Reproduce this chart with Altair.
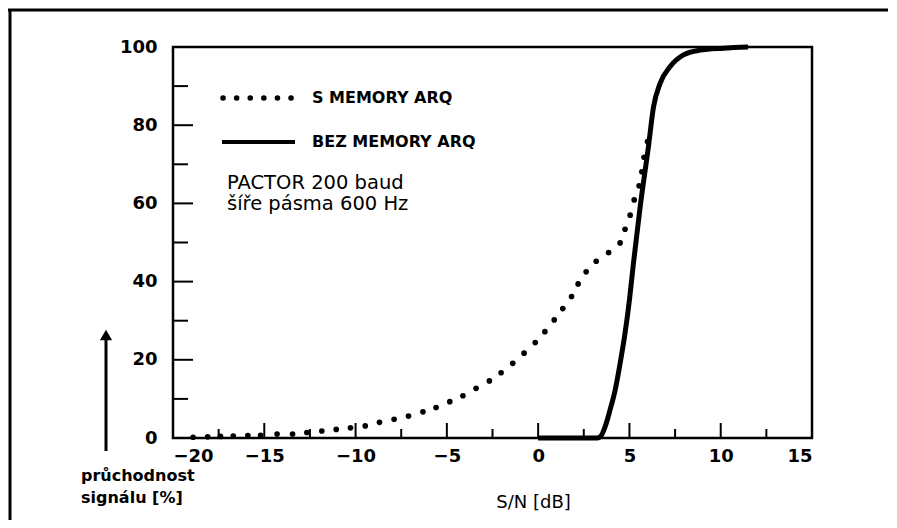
import altair as alt
import pandas as pd

# S MEMORY ARQ (dotted series)
s_mem_x = [-18.9, -18.1, -17.4, -16.7, -15.9, -15.2, -14.3, -13.45, -12.67, -11.85,
           -11.06, -10.28, -9.47, -8.69, -7.89, -7.1, -6.31, -5.59, -4.84, -4.12,
           -3.40, -2.67, -2.03, -1.39, -0.77, -0.16, 0.37, 0.88, 1.35, 1.83,
           2.19, 2.63, 3.18, 3.86, 4.49, 4.76, 5.04, 5.26, 5.53, 5.68, 5.80, 5.99]
s_mem_y = [0.2, 0.3, 0.4, 0.5, 0.6, 0.7, 1.0, 1.0, 1.4, 1.8,
           2.2, 2.6, 3.1, 4.0, 4.8, 5.6, 6.7, 7.8, 9.3, 10.8,
           12.7, 14.6, 16.7, 19.1, 21.7, 24.4, 27.2, 30.2, 33.1, 36.2,
           39.4, 42.5, 45.2, 47.4, 49.9, 53.4, 57.0, 60.9, 64.5, 68.1, 71.8, 75.8]

# BEZ MEMORY ARQ (solid series)
bez_x = [0.0, 3.2, 3.4, 3.67, 3.94, 4.22, 4.49, 4.76, 5.0, 5.22, 5.59, 6.04, 6.32,
         6.68, 7.23, 7.96, 8.87, 10.15, 11.5]
bez_y = [0.0, 0.0, 0.3, 2.9, 7.2, 12.3, 19.1, 26.8, 35.3, 44.7, 59.2, 74.5, 84.7,
         90.7, 95.0, 98.0, 99.2, 99.7, 100.0]

x_major = [-20, -15, -10, -5, 0, 5, 10, 15]
x_minor = [-17.5, -12.5, -7.5, -2.5, 2.5, 7.5, 12.5]
y_major = [0, 20, 40, 60, 80, 100]
y_minor = [10, 30, 50, 70, 90]

legend_labels = ["S MEMORY ARQ", "BEZ MEMORY ARQ"]
note_lines = ["PACTOR 200 baud", "šíře pásma 600 Hz"]
y_title = ["průchodnost", "signálu [%]"]
x_title = "S/N [dB]"

W, H = 639, 391
FONT = "DejaVu Sans"

xs = alt.Scale(domain=[-20, 15], nice=False, zero=False)
ys = alt.Scale(domain=[0, 100], nice=False, zero=False)

df_s = pd.DataFrame({"x": s_mem_x, "y": s_mem_y})
df_b = pd.DataFrame({"x": bez_x, "y": bez_y})
one = pd.DataFrame({"k": [0]})

x_axis = alt.Axis(values=x_major, format="d", ticks=False, tickSize=0, domain=False, grid=False,
                  labelFont=FONT, labelFontWeight="bold", labelFontSize=18, labelPadding=9,
                  labelColor="black", title=x_title, titleFont=FONT, titleFontWeight="normal",
                  titleFontSize=18, titleColor="black", titleX=360, titleY=64,
                  titleBaseline="middle", titleAlign="center")
y_axis = alt.Axis(values=y_major, format="d", ticks=False, tickSize=0, domain=False, grid=False,
                  labelFont=FONT, labelFontWeight="bold", labelFontSize=18, labelPadding=16,
                  labelColor="black", title=None)

dots = alt.Chart(df_s).mark_point(filled=True, shape="circle", size=32, color="black", opacity=1).encode(
    x=alt.X("x:Q", scale=xs, axis=x_axis),
    y=alt.Y("y:Q", scale=ys, axis=y_axis),
)

solid = alt.Chart(df_b).mark_line(color="black", strokeWidth=5, interpolate="monotone").encode(
    x=alt.X("x:Q", scale=xs), y=alt.Y("y:Q", scale=ys), order="x:Q"
)

xt_major = alt.Chart(pd.DataFrame({"t": x_major})).mark_rule(color="black", strokeWidth=2).encode(
    x=alt.X("t:Q", scale=xs), y=alt.value(H), y2=alt.value(H - 15))
xt_minor = alt.Chart(pd.DataFrame({"t": x_minor})).mark_rule(color="black", strokeWidth=2).encode(
    x=alt.X("t:Q", scale=xs), y=alt.value(H), y2=alt.value(H - 9))
yt_major = alt.Chart(pd.DataFrame({"t": y_major})).mark_rule(color="black", strokeWidth=2).encode(
    y=alt.Y("t:Q", scale=ys), x=alt.value(0), x2=alt.value(20))
yt_minor = alt.Chart(pd.DataFrame({"t": y_minor})).mark_rule(color="black", strokeWidth=2).encode(
    y=alt.Y("t:Q", scale=ys), x=alt.value(0), x2=alt.value(15))

leg_dots = alt.Chart(one).mark_rule(color="black", strokeWidth=5.5, strokeCap="round",
                                    strokeDash=[0.1, 13.5]).encode(
    x=alt.value(50), x2=alt.value(120), y=alt.value(51))
leg_line = alt.Chart(one).mark_rule(color="black", strokeWidth=4).encode(
    x=alt.value(49), x2=alt.value(122), y=alt.value(95))
leg_t1 = alt.Chart(one).mark_text(text=legend_labels[0], font=FONT, fontWeight="bold", fontSize=16,
                                  align="left", baseline="middle", color="black").encode(
    x=alt.value(139), y=alt.value(51))
leg_t2 = alt.Chart(one).mark_text(text=legend_labels[1], font=FONT, fontWeight="bold", fontSize=16,
                                  align="left", baseline="middle", color="black").encode(
    x=alt.value(139), y=alt.value(95))
note = alt.Chart(one).mark_text(text=note_lines, font=FONT, fontSize=19.5, lineHeight=21,
                                align="left", baseline="middle", color="black").encode(
    x=alt.value(54), y=alt.value(136))
ytitle = alt.Chart(one).mark_text(text=y_title, font=FONT, fontWeight="bold", fontSize=16,
                                  lineHeight=22, align="left", baseline="middle", color="black").encode(
    x=alt.value(-92), y=alt.value(429))
arrow_shaft = alt.Chart(one).mark_rule(color="black", strokeWidth=3).encode(
    x=alt.value(-67), y=alt.value(404), y2=alt.value(292))
arrow_head = alt.Chart(one).mark_point(shape="triangle-up", filled=True, size=150, color="black",
                                       opacity=1).encode(x=alt.value(-67), y=alt.value(288))
frame_top = alt.Chart(one).mark_rule(color="black", strokeWidth=3).encode(
    x=alt.value(-165), x2=alt.value(740), y=alt.value(-37))
frame_left = alt.Chart(one).mark_rule(color="black", strokeWidth=3).encode(
    x=alt.value(-163), y=alt.value(-38), y2=alt.value(490))

chart = alt.layer(
    dots, solid, xt_major, xt_minor, yt_major, yt_minor,
    leg_dots, leg_line, leg_t1, leg_t2, note, ytitle, arrow_shaft, arrow_head,
    frame_top, frame_left,
).properties(
    width=W, height=H,
    autosize=alt.AutoSizeParams(type="none"),
    padding={"left": 165, "top": 39, "right": 76, "bottom": 82},
    background="white",
).configure_view(stroke="black", strokeWidth=2.5)

chart.save("out.html", embed_options={"renderer": "svg", "actions": False})
